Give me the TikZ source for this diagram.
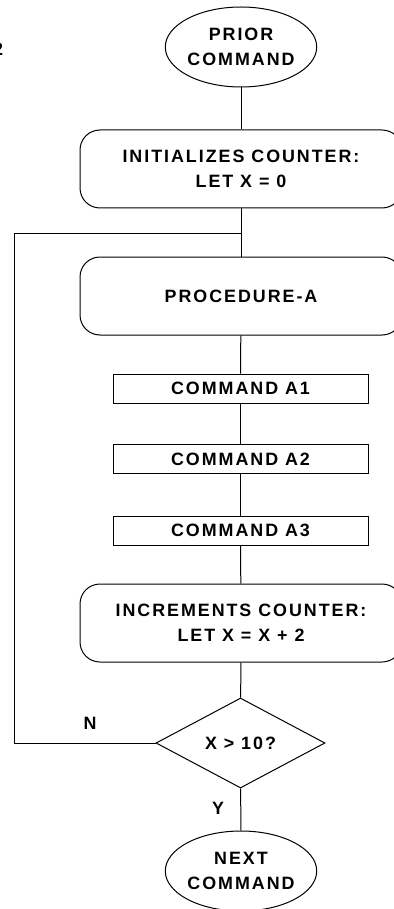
\documentclass[tikz,border=0pt]{standalone}
\usepackage{fontspec}
\setmainfont{Liberation Sans}[LetterSpace=11]
\usetikzlibrary{positioning,shapes.geometric}
\tikzset{
  flowtext/.style={font=\fontsize{13.4}{18.75}\selectfont\bfseries,align=center,inner sep=0pt},
  terminal/.style={flowtext,ellipse,draw,minimum width=99pt,minimum height=60pt},
  process/.style={flowtext,draw,rounded corners=15pt,minimum width=241.5pt,minimum height=58.5pt},
  command/.style={flowtext,draw,minimum width=191.25pt,minimum height=21.75pt},
  decision/.style={flowtext,diamond,draw,aspect=1.88,minimum width=126.75pt,minimum height=67.5pt}
}

\begin{document}
\begin{tikzpicture}[x=0.75pt,y=-0.75pt,line width=0.75pt]
        \useasboundingbox (0,0) rectangle (393,909);
        % cut-off figure number
        \node[flowtext,anchor=east] at (3.5,49) (figno) {2};
        % nodes
        \node[terminal] at (241,47) (prior) {PRIOR\\COMMAND};
        \node[process] at (241,169) (init) {INITIALIZES COUNTER:\\LET X = 0};
        \node[process] at (241,296) (proc) {PROCEDURE-A};
        \node[command] at (240.5,388.5) (a1) {COMMAND A1};
        \node[command] at (240.5,459) (a2) {COMMAND A2};
        \node[command] at (240.5,530.5) (a3) {COMMAND A3};
        \node[process] at (241,623) (inc) {INCREMENTS COUNTER:\\LET X = X + 2};
        \node[decision] at (240.5,743) (test) {X > 10?};
        \node[terminal] at (241,871) (next) {NEXT\\COMMAND};
        \coordinate (join) at (241,233);
        \coordinate (loopTop) at (14,233);
        \coordinate (loopBot) at (14,743);
        % connectors
        \draw (prior) -- (init);
        \draw (init) -- (proc);
        \draw (proc) -- (a1);
        \draw (a1) -- (a2);
        \draw (a2) -- (a3);
        \draw (a3) -- (inc);
        \draw (inc) -- (test);
        \draw (test) -- (next);
        \draw (test.west) -- (loopBot) -- (loopTop) -- (join);
        % branch labels
        \node[flowtext] at (90,723) (no) {N};
        \node[flowtext] at (218,808) (yes) {Y};
    \end{tikzpicture}
\end{document}
